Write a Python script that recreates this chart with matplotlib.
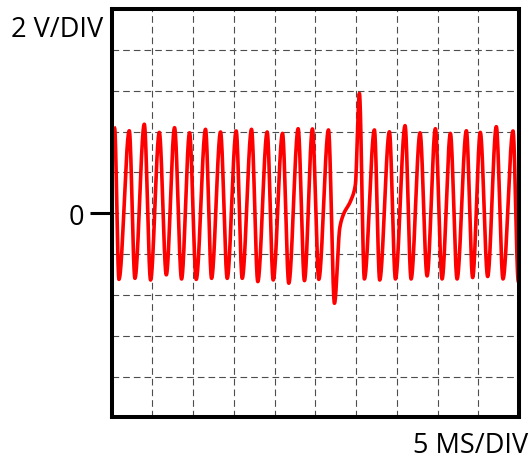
import numpy as np
import matplotlib
matplotlib.use('Agg')
import matplotlib.pyplot as plt

# scope trace: time in ms, level in volts
peak_t = [0.38, 2.18, 4.02, 5.86, 7.73, 9.57, 11.53, 13.37, 15.29, 17.17, 19.09, 20.97, 22.89,
          24.64, 26.61, 30.40, 32.24, 34.08, 36.00, 37.84, 39.72, 41.56, 43.52, 45.23, 47.19, 49.24]
peak_v = [4.16, 4.04, 4.36, 3.96, 4.19, 3.94, 4.11, 3.98, 4.03, 4.11, 3.98, 3.91, 4.14,
          4.13, 4.08, 5.87, 4.08, 3.99, 4.29, 3.94, 4.14, 3.91, 4.04, 3.96, 4.24, 4.03]
trough_t = [0.91, 2.87, 4.79, 6.72, 8.59, 10.39, 12.27, 14.19, 16.03, 17.94, 19.83, 21.74, 23.66,
            25.42, 27.34, 31.01, 32.89, 34.82, 36.74, 38.70, 40.54, 42.38, 44.29, 46.13, 48.01, 49.89]
trough_v = [-3.24, -3.19, -3.27, -3.02, -3.22, -3.24, -3.19, -3.19, -3.19, -3.35, -3.27, -3.43, -3.30,
            -3.24, -4.41, -3.22, -3.27, -3.22, -3.22, -3.07, -3.22, -3.22, -3.15, -3.10, -3.22, -3.35]
# the slow bit between the dip and the spike
glitch_t = [28.00, 28.45, 29.30, 29.90]
glitch_v = [-0.70, -0.05, 0.58, 1.37]

x_label = '5 MS/DIV'
y_label = '2 V/DIV'


def pchip(x, y, xs):
    # monotone cubic through the read points, flat at the peaks
    x = np.asarray(x, float)
    y = np.asarray(y, float)
    h = np.diff(x)
    dl = np.diff(y) / h
    d = np.zeros(len(x))
    for k in range(1, len(x) - 1):
        if dl[k - 1] * dl[k] > 0:
            w1 = 2 * h[k] + h[k - 1]
            w2 = h[k] + 2 * h[k - 1]
            d[k] = (w1 + w2) / (w1 / dl[k - 1] + w2 / dl[k])
    i = np.clip(np.searchsorted(x, xs) - 1, 0, len(x) - 2)
    t = (xs - x[i]) / h[i]
    h00 = 2 * t**3 - 3 * t**2 + 1
    h10 = t**3 - 2 * t**2 + t
    h01 = -2 * t**3 + 3 * t**2
    h11 = t**3 - t**2
    return h00 * y[i] + h10 * h[i] * d[i] + h01 * y[i + 1] + h11 * h[i] * d[i + 1]


tt = np.array(peak_t + trough_t + glitch_t)
vv = np.array(peak_v + trough_v + glitch_v)
order = np.argsort(tt)
tt = tt[order]
vv = vv[order]
ts = np.linspace(tt[0], tt[-1], 4000)
vs = pchip(tt, vv, ts)

fig = plt.figure(figsize=(5.29, 4.64), dpi=100)
ax = fig.add_axes([0.2108, 0.0983, 0.7707, 0.880])
ax.plot(ts, vs, color='#ff0000', lw=2.6, solid_joinstyle='round')

ax.set_xlim(0, 50)
ax.set_ylim(-10, 10)

# grid on minor ticks, one real tick at zero
ax.set_xticks([])
ax.set_xticks(np.arange(5, 50, 5), minor=True)
ax.set_yticks([0])
ax.set_yticklabels(['0'], fontsize=19.5, fontfamily='Open Sans')
ax.set_yticks(np.arange(-8, 9, 2), minor=True)
ax.yaxis.remove_overlapping_locs = False
ax.tick_params(axis='y', which='major', length=15.8, width=2.2, pad=3.6, color='black')
ax.tick_params(which='minor', length=0)
ax.grid(which='minor', color='#4d4d4d', lw=0.8, ls=(0, (6, 3.6)))
for s in ax.spines.values():
    s.set_linewidth(2.9)

fig.text(0.021, 0.921, y_label, fontsize=19.5, fontfamily='Open Sans', ha='left', va='baseline')
fig.text(0.998, 0.0244, x_label, fontsize=19.5, fontfamily='Open Sans', ha='right', va='baseline')

plt.savefig('out.png', dpi=100)
